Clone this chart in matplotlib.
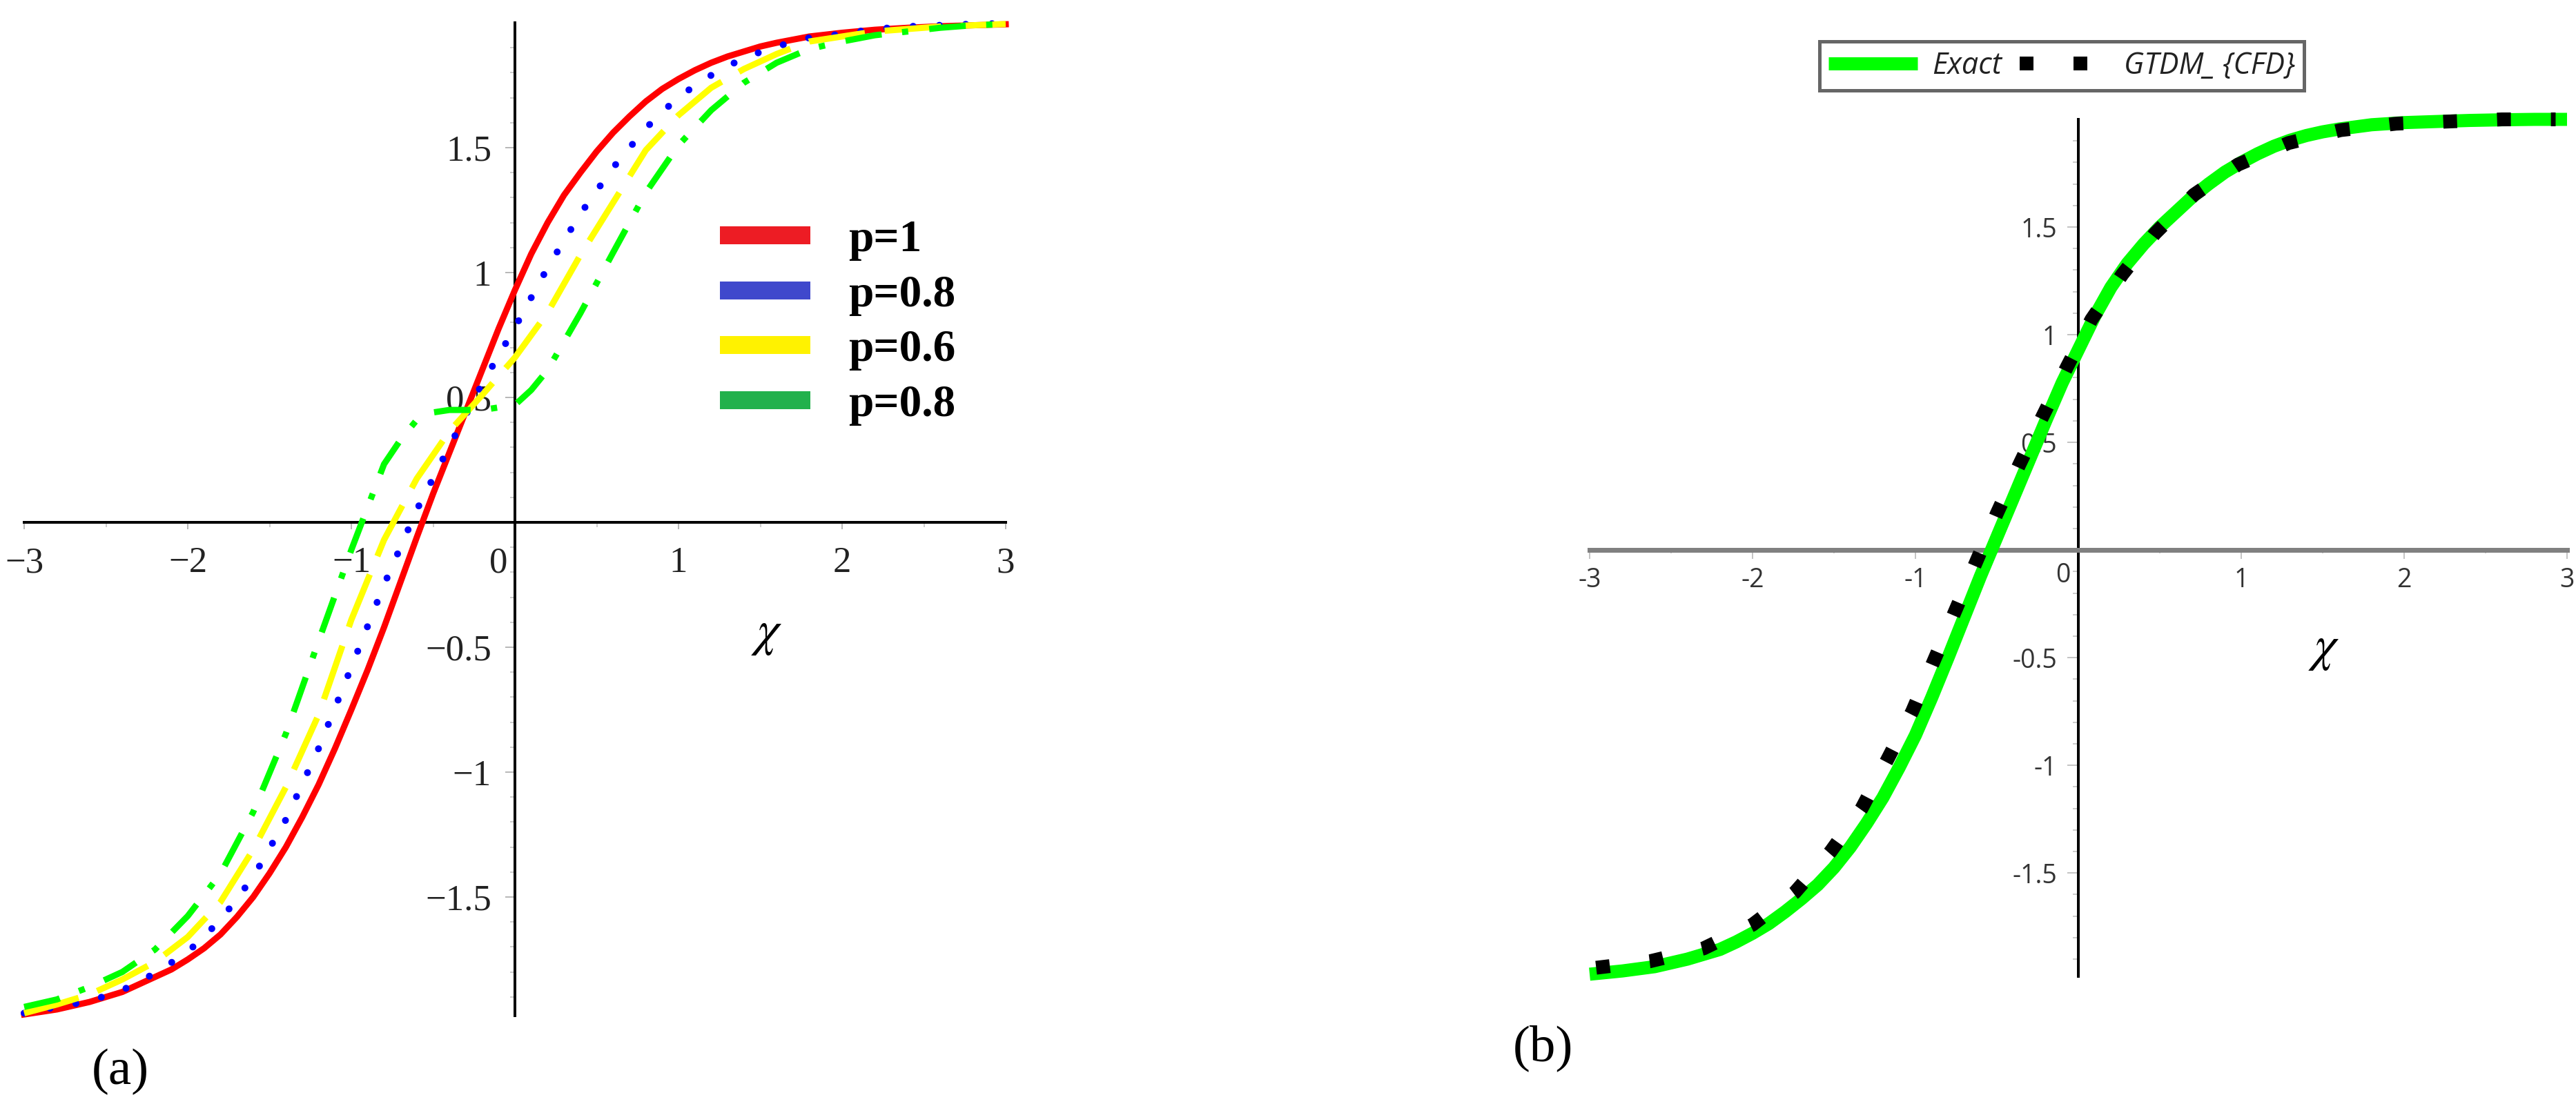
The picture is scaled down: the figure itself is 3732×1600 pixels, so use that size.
"""
Two-panel figure: (a) solutions for several p, (b) exact vs GTDM_{CFD}
"""

import matplotlib
matplotlib.use('Agg')
import matplotlib.pyplot as plt
from matplotlib.lines import Line2D

W, H, DPI = 3732, 1600, 100


def pt(px):
    """pixels -> points"""
    return px * 72.0 / DPI


# ---------------- data ----------------
chi = [-3.0, -2.8, -2.6, -2.4, -2.2, -2.0, -1.8, -1.6, -1.4, -1.2, -1.0,
       -0.8, -0.6, -0.4, -0.2, 0.0, 0.2, 0.4, 0.6, 0.8, 1.0,
       1.2, 1.4, 1.6, 1.8, 2.0, 2.2, 2.4, 2.6, 2.8, 3.0]

# solid curves read on a finer step where they bend
chi_fine = [-3.0, -2.8, -2.6, -2.4, -2.2, -2.1, -2.0, -1.9, -1.8, -1.7, -1.6,
            -1.5, -1.4, -1.3, -1.2, -1.1, -1.0, -0.9, -0.8, -0.7, -0.6,
            -0.5, -0.4, -0.3, -0.2, -0.1, 0.0, 0.1, 0.2, 0.3, 0.4,
            0.5, 0.6, 0.7, 0.8, 0.9, 1.0, 1.1, 1.2, 1.3, 1.4,
            1.5, 1.6, 1.8, 2.0, 2.2, 2.4, 2.6, 2.8, 3.0]

u_p1 = [-1.97, -1.95, -1.92, -1.88, -1.82, -1.79, -1.75, -1.705, -1.65, -1.58, -1.50,
        -1.405, -1.30, -1.18, -1.05, -0.905, -0.75, -0.59, -0.42, -0.24, -0.06,
        0.115, 0.28, 0.445, 0.61, 0.775, 0.93, 1.075, 1.20, 1.31, 1.40,
        1.485, 1.56, 1.625, 1.685, 1.735, 1.775, 1.81, 1.84, 1.865, 1.885,
        1.905, 1.92, 1.945, 1.96, 1.972, 1.98, 1.986, 1.99, 1.994]

u_p08 = [-1.965, -1.94, -1.917, -1.873, -1.805, -1.72, -1.593, -1.42, -1.19, -0.905, -0.58,
         -0.25, 0.05, 0.305, 0.555, 0.78, 1.02, 1.235, 1.42, 1.578, 1.704,
         1.79, 1.86, 1.905, 1.94, 1.955, 1.975, 1.985, 1.99, 1.995, 1.997]

u_p06 = [-1.965, -1.93, -1.89, -1.83, -1.76, -1.66, -1.52, -1.31, -1.06, -0.77, -0.39,
         -0.07, 0.175, 0.365, 0.51, 0.66, 0.84, 1.07, 1.28, 1.49, 1.63,
         1.74, 1.815, 1.875, 1.925, 1.945, 1.965, 1.975, 1.985, 1.99, 1.995]

chi_g = [-3.0, -2.8, -2.6, -2.4, -2.2, -2.0, -1.8, -1.6, -1.4, -1.2, -1.0,
         -0.8, -0.7, -0.6, -0.5, -0.4, -0.2, 0.0, 0.1, 0.2, 0.4, 0.6, 0.8, 1.0,
         1.2, 1.4, 1.6, 1.8, 2.0, 2.2, 2.4, 2.6, 2.8, 3.0]
u_p08g = [-1.94, -1.91, -1.86, -1.80, -1.71, -1.576, -1.407, -1.16, -0.846, -0.475, -0.11,
          0.233, 0.33, 0.41, 0.44, 0.45, 0.45, 0.47, 0.53, 0.61, 0.837, 1.08, 1.32, 1.51,
          1.65, 1.76, 1.84, 1.895, 1.925, 1.95, 1.965, 1.98, 1.99, 1.995]

labels_a = ['p=1', 'p=0.8', 'p=0.6', 'p=0.8']
legend_colors_a = ['#ED1C24', '#3F48CC', '#FFF200', '#22B14C']

# panel (b)
u_exact = [-1.97, -1.955, -1.935, -1.90, -1.855, -1.82, -1.78, -1.735, -1.68, -1.62, -1.555,
           -1.475, -1.38, -1.27, -1.15, -1.01, -0.86, -0.685, -0.50, -0.31, -0.12,
           0.06, 0.24, 0.42, 0.60, 0.775, 0.93, 1.085, 1.22, 1.33, 1.42,
           1.50, 1.57, 1.64, 1.70, 1.755, 1.80, 1.84, 1.875, 1.903, 1.925,
           1.942, 1.955, 1.975, 1.985, 1.99, 1.995, 1.998, 2.0, 2.0]

chi_gtdm = [-2.96, -2.63, -2.30, -2.00, -1.74, -1.52, -1.33, -1.17, -1.02, -0.89, -0.76,
            -0.63, -0.50, -0.36, -0.22, -0.07, 0.08, 0.27, 0.47, 0.71, 0.98,
            1.29, 1.61, 1.95, 2.27, 2.60, 2.93]
u_gtdm = [-1.94, -1.91, -1.85, -1.74, -1.59, -1.40, -1.20, -0.97, -0.75, -0.52, -0.29,
          -0.06, 0.17, 0.40, 0.62, 0.85, 1.07, 1.28, 1.47, 1.65, 1.79,
          1.89, 1.95, 1.98, 1.99, 2.0, 2.0]

xt_major = [-3, -2, -1, 1, 2, 3]
xt_minor = [-2.5, -1.5, -0.5, 0, 0.5, 1.5, 2.5]
yt_major = [-1.5, -1, -0.5, 0.5, 1, 1.5]
yt_minor = [k / 10 for k in range(-19, 20) if k % 5 != 0]

SERIF = ['Liberation Serif', 'DejaVu Serif']
NARROW = ['Liberation Sans Narrow', 'Open Sans', 'DejaVu Sans']

fig = plt.figure(figsize=(W / DPI, H / DPI), dpi=DPI)
fig.patch.set_facecolor('white')


def setup_axes(ax, axis_col_x, lw_x, lw_y):
    for s in ['top', 'right']:
        ax.spines[s].set_visible(False)
    ax.spines['left'].set_position(('data', 0))
    ax.spines['bottom'].set_position(('data', 0))
    ax.spines['left'].set_color('black')
    ax.spines['left'].set_linewidth(pt(lw_y))
    ax.spines['bottom'].set_color(axis_col_x)
    ax.spines['bottom'].set_linewidth(pt(lw_x))
    ax.set_facecolor('none')


# ---------------- panel (a) ----------------
ax1 = fig.add_axes([35 / W, 128 / H, 1422 / W, 1439 / H])
ax1.set_xlim(-3, 3)
ax1.set_ylim(-1.975, 2.0)
setup_axes(ax1, 'black', 4, 4)

ax1.plot(chi_fine, u_p1, color='#FF0000', lw=pt(9), zorder=3, clip_on=False)
ax1.plot(chi, u_p08, color='#0000FF', lw=pt(10), ls=(0, (0.01, 3.8)),
         dash_capstyle='round', zorder=3, clip_on=False)
ax1.plot(chi, u_p06, color='#FFFF00', lw=pt(9), ls=(0, (9.1, 3.2)),
         dash_capstyle='butt', zorder=3, clip_on=False)
ax1.plot(chi_g, u_p08g, color='#00FF00', lw=pt(9), ls=(0, (5.9, 3.3, 1, 3.4)),
         dash_capstyle='butt', zorder=3, clip_on=False)

ax1.set_xticks(xt_major)
ax1.set_xticklabels([f'{v:g}'.replace('-', '\u2212') for v in xt_major],
                    fontfamily=SERIF)
ax1.set_xticks(xt_minor, minor=True)
ax1.set_yticks(yt_major)
ax1.set_yticklabels([f'{v:g}'.replace('-', '\u2212') for v in yt_major],
                    fontfamily=SERIF)
ax1.set_yticks(yt_minor, minor=True)
ax1.tick_params(which='major', direction='out', length=pt(10), width=pt(2),
                color='#b8b8b8', labelsize=38, labelcolor='#222222')
ax1.tick_params(axis='x', which='major', pad=pt(25))
ax1.tick_params(axis='y', which='major', pad=pt(20), length=pt(14))
ax1.tick_params(which='minor', direction='out', length=pt(7), width=pt(2),
                color='#cccccc')
ax1.annotate('0', xy=(0, 0), xytext=(-pt(24), -pt(35)), textcoords='offset points',
             ha='center', va='top', fontsize=38, color='#222222', family=SERIF)

handles_a = [Line2D([], [], color=c, lw=pt(26), solid_capstyle='butt')
             for c in legend_colors_a]
ax1.legend(handles_a, labels_a, loc='upper left',
           bbox_to_anchor=(1043 / W, 1 - 318 / H), bbox_transform=fig.transFigure,
           frameon=False, prop={'family': SERIF, 'weight': 'bold', 'size': 47},
           handlelength=2.0, handletextpad=0.85, labelspacing=0.3,
           borderpad=0, borderaxespad=0)

fig.text(1111 / W, 1 - 918 / H, r'$\chi$', fontsize=52, math_fontfamily='stix',
         ha='center', va='center')
fig.text(174 / W, 1 - 1553 / H, '(a)', fontsize=54, family=SERIF,
         ha='center', va='center')

# ---------------- panel (b) ----------------
ax2 = fig.add_axes([2303 / W, 185 / H, 1416 / W, 1242 / H])
ax2.set_xlim(-3, 3)
ax2.set_ylim(-1.98, 2.0)
setup_axes(ax2, '#808080', 7, 4)

l_exact, = ax2.plot(chi_fine, u_exact, color='#00FF00', lw=pt(19), zorder=3,
                    clip_on=False, solid_capstyle='butt')
l_gtdm, = ax2.plot(chi_gtdm, u_gtdm, color='black', lw=pt(20), ls=(0, (1, 2.9)),
                   dash_capstyle='butt', zorder=4, clip_on=False)

ax2.set_xticks(xt_major)
ax2.set_xticklabels([f'{v:g}' for v in xt_major], fontfamily=NARROW)
ax2.set_xticks(xt_minor, minor=True)
ax2.set_yticks(yt_major)
ax2.set_yticklabels([f'{v:g}' for v in yt_major], fontfamily=NARROW)
ax2.set_yticks(yt_minor, minor=True)
ax2.tick_params(which='major', direction='out', width=pt(2), color='#c4c4c4',
                labelsize=27, labelcolor='#333333')
ax2.tick_params(axis='x', which='major', length=pt(13), pad=pt(12))
ax2.tick_params(axis='y', which='major', length=pt(16), pad=pt(15))
ax2.tick_params(axis='x', which='minor', direction='out', length=pt(5),
                width=pt(2), color='#cccccc')
ax2.tick_params(axis='y', which='minor', direction='out', length=pt(8),
                width=pt(2), color='#cccccc')
ax2.annotate('0', xy=(0, 0), xytext=(-pt(22), -pt(18)), textcoords='offset points',
             ha='center', va='top', fontsize=27, color='#333333', family=NARROW)

leg = fig.legend([l_exact, l_gtdm], ['Exact', 'GTDM_ {CFD}'], ncol=2,
                 loc='center', bbox_to_anchor=(2987 / W, 1 - 95.5 / H),
                 frameon=True, fancybox=False, edgecolor='#404040',
                 prop={'family': NARROW, 'style': 'italic', 'size': 31},
                 handlelength=3.0, handletextpad=0.5, columnspacing=0.6,
                 borderpad=0.3)
leg.get_frame().set_linewidth(pt(5))
for t in leg.get_texts():
    t.set_color('#222222')

fig.text(3367 / W, 1 - 939 / H, r'$\chi$', fontsize=52, math_fontfamily='stix',
         ha='center', va='center')
fig.text(2235 / W, 1 - 1519 / H, '(b)', fontsize=54, family=SERIF,
         ha='center', va='center')

fig.savefig('out.png', dpi=DPI, facecolor='white')
